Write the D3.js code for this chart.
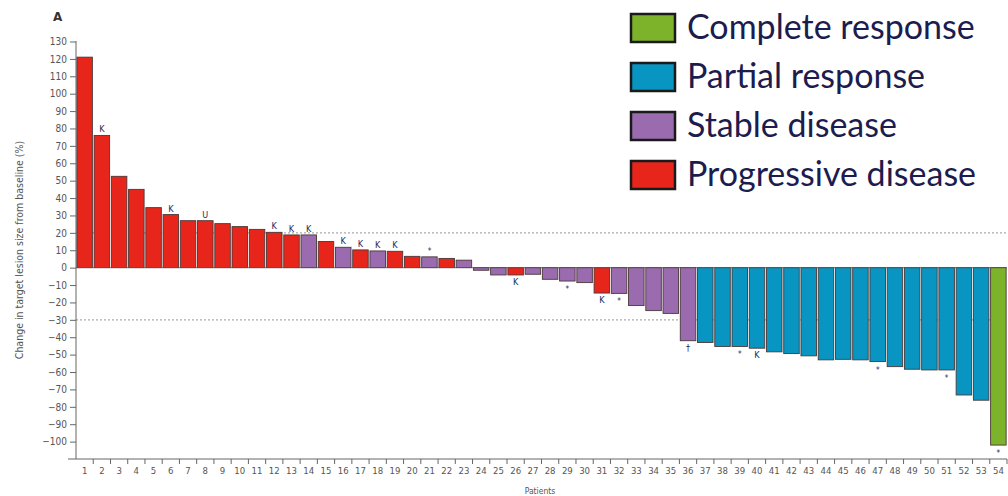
<!DOCTYPE html>
<html><head><meta charset="utf-8">
<script src="https://cdn.jsdelivr.net/npm/d3@7"></script>
<style>
body{margin:0;background:#fff;}
svg{display:block;}
</style></head>
<body>
<svg id="chart" width="1008" height="496"></svg>
<script>
const patients = ["1","2","3","4","5","6","7","8","9","10","11","12","13","14","15","16","17","18","19","20","21","22","23","24","25","26","27","28","29","30","31","32","33","34","35","36","37","38","39","40","41","42","43","44","45","46","47","48","49","50","51","52","53","54"];
const changes = [121,76,52.5,45,34.5,30.5,27,27,25.3,23.6,22,20.3,18.8,18.8,15,11.7,10.2,9.6,9.4,6.5,6.2,5.3,4.3,-1.5,-4.2,-4.2,-3.8,-6.7,-7.7,-8.6,-14.6,-14.8,-21.8,-24.7,-26.3,-42,-43,-45.3,-45.3,-46.3,-48.4,-49.4,-50.7,-53,-52.7,-53,-54,-56.9,-58.4,-58.8,-58.8,-73.2,-76.2,-102];
const responses = ["PD","PD","PD","PD","PD","PD","PD","PD","PD","PD","PD","PD","PD","SD","PD","SD","PD","SD","PD","PD","SD","PD","SD","SD","SD","PD","SD","SD","SD","SD","PD","SD","SD","SD","SD","SD","PR","PR","PR","PR","PR","PR","PR","PR","PR","PR","PR","PR","PR","PR","PR","PR","PR","CR"];
const marks = ["","K","","","","K","","U","","","","K","K","K","","K","K","K","K","","*","","","","","K","","","*","","K","*","","","","\u2020","","","*","K","","","","","","","*","","","","*","","","*"];
const yTicks = [130,120,110,100,90,80,70,60,50,40,30,20,10,0,-10,-20,-30,-40,-50,-60,-70,-80,-90,-100];
const refLines = [20,-30];
const legendKeys = ["CR","PR","SD","PD"];
const legendLabels = ["Complete response","Partial response","Stable disease","Progressive disease"];
const colorMap = {CR:"#7cb32b", PR:"#0895c2", SD:"#9b6bb0", PD:"#e8251b"};

const svg = d3.select("#chart");
const x = d3.scaleBand().domain(patients).range([76, 1007]).paddingInner(0.1).paddingOuter(0.05);
const y = d3.scaleLinear().domain([-110, 130]).range([459, 41.5]);

const axisColor = "#666";
const tickFont = "'DejaVu Sans Condensed','Liberation Sans Narrow','DejaVu Sans',sans-serif";

// reference lines
svg.append("g").selectAll("line").data(refLines).join("line")
  .attr("x1", 76).attr("x2", 1008)
  .attr("y1", d => y(d)).attr("y2", d => y(d))
  .attr("stroke", "#aaa").attr("stroke-width", 1.2).attr("stroke-dasharray", "2,2");

// bars
const data = patients.map((p, i) => ({p, v: changes[i], r: responses[i], m: marks[i]}));
svg.append("g").selectAll("rect").data(data).join("rect")
  .attr("x", d => x(d.p))
  .attr("width", x.bandwidth())
  .attr("y", d => y(Math.max(0, d.v)))
  .attr("height", d => Math.abs(y(d.v) - y(0)))
  .attr("fill", d => colorMap[d.r])
  .attr("stroke", "#4a3838").attr("stroke-width", 0.9);

// zero line
svg.append("line").attr("x1", 76).attr("x2", 1007).attr("y1", y(0)).attr("y2", y(0))
  .attr("stroke", "#555").attr("stroke-width", 0.8);

// annotations
svg.append("g").selectAll("text").data(data.filter(d => d.m)).join("text")
  .attr("x", d => x(d.p) + x.bandwidth() / 2)
  .attr("y", d => d.v >= 0 ? y(d.v) - 3 : y(d.v) + (d.m === "*" ? 11 : 10))
  .attr("text-anchor", "middle")
  .attr("font-family", tickFont).attr("font-size", d => d.m === "*" ? 8 : 9)
  .attr("fill", "#2a2a55")
  .text(d => d.m);

// y axis
const yAxis = svg.append("g").attr("transform", "translate(76,0)")
  .call(d3.axisLeft(y).tickValues(yTicks).tickSize(6).tickPadding(3));
yAxis.select(".domain").attr("stroke", axisColor).attr("d", `M0,${y(130)-0.5}V${y(-110)}`);
yAxis.selectAll(".tick line").attr("stroke", axisColor);
yAxis.selectAll(".tick text").attr("fill", "#555").attr("font-size", 10).attr("font-family", tickFont);

// x axis
const xAxis = svg.append("g").attr("transform", `translate(0,${y(-110)})`)
  .call(d3.axisBottom(x).tickSize(0).tickPadding(8));
xAxis.select(".domain").attr("stroke", axisColor).attr("d", "M68,0H1007");
xAxis.selectAll(".tick text").attr("fill", "#555").attr("font-size", 9.5).attr("font-family", tickFont);
// boundary ticks between bars
const step = x.step();
svg.append("g").selectAll("line").data(patients).join("line")
  .attr("x1", d => x(d) + x.bandwidth() + step * x.paddingInner() / 2)
  .attr("x2", d => x(d) + x.bandwidth() + step * x.paddingInner() / 2)
  .attr("y1", y(-110)).attr("y2", y(-110) + 5)
  .attr("stroke", axisColor);

// axis titles
svg.append("text").attr("x", 540).attr("y", 494).attr("text-anchor", "middle")
  .attr("font-family", tickFont).attr("font-size", 8.5).attr("fill", "#555").text("Patients");
svg.append("text").attr("transform", "translate(23,250) rotate(-90)").attr("text-anchor", "middle")
  .attr("font-family", tickFont).attr("font-size", 10.5).attr("fill", "#555")
  .text("Change in target lesion size from baseline (%)");
svg.append("text").attr("x", 53).attr("y", 21).attr("font-family", "'DejaVu Sans',sans-serif")
  .attr("font-weight", "bold").attr("font-size", 12).attr("fill", "#333").text("A");

// legend
const lg = svg.append("g").selectAll("g").data(legendKeys).join("g")
  .attr("transform", (d, i) => `translate(631,${14 + i * 49})`);
lg.append("rect").attr("width", 44).attr("height", 28)
  .attr("fill", d => colorMap[d]).attr("stroke", "#1a1a1a").attr("stroke-width", 2.5);
lg.append("text").attr("x", 56).attr("y", 25)
  .attr("font-family", "Lato, 'Open Sans', sans-serif").attr("font-size", 34)
  .attr("fill", "#1c1c4e")
  .text((d, i) => legendLabels[i]);
</script>
</body></html>
